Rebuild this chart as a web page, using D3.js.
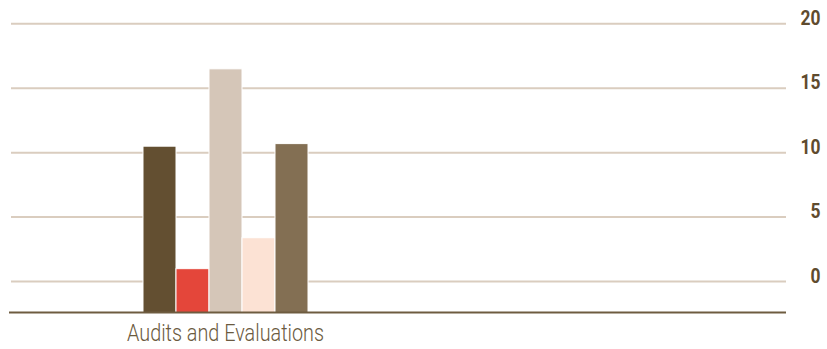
<!DOCTYPE html>
<html>
<head>
<meta charset="utf-8">
<script src="https://cdn.jsdelivr.net/npm/d3@7"></script>
<style>
  html, body { margin: 0; padding: 0; background: #ffffff; }
  svg { display: block; }
</style>
</head>
<body>
<svg id="chart" width="827" height="349"></svg>
<script>
const categories = ["Audits and Evaluations"];
const seriesNames = ["Series 1", "Series 2", "Series 3", "Series 4", "Series 5"];
const series1 = [10.5];
const series2 = [1.0];
const series3 = [16.5];
const series4 = [3.4];
const series5 = [10.7];
const seriesValues = [series1, series2, series3, series4, series5];
const seriesColors = ["#634f31", "#e4463a", "#d5c6b8", "#fce2d4", "#836f53"];
const yTicks = [0, 5, 10, 15, 20];

const W = 827, H = 349;
const plot = { left: 10, right: 786, top: 23.7, bottom: 312.5 };
const svg = d3.select("#chart");

const y = d3.scaleLinear().domain([-2.4, 20]).range([plot.bottom, plot.top]);
const x0 = d3.scaleBand().domain(categories).range([plot.left, 441]);
const x1 = d3.scaleBand().domain(seriesNames).range([0, x0.bandwidth()]).paddingOuter(4.03).paddingInner(0);

// gridlines
svg.append("g").selectAll("line").data(yTicks).join("line")
  .attr("x1", plot.left + 1).attr("x2", plot.right)
  .attr("y1", d => y(d)).attr("y2", d => y(d))
  .attr("stroke", "#dacdbf").attr("stroke-width", 2);

// bars
const rows = [];
categories.forEach((c, ci) => seriesNames.forEach((s, si) => rows.push({ c, s, si, v: seriesValues[si][ci] })));
svg.append("g").selectAll("rect").data(rows).join("rect")
  .attr("x", d => x0(d.c) + x1(d.s))
  .attr("width", x1.bandwidth())
  .attr("y", d => y(d.v))
  .attr("height", d => y.range()[0] - y(d.v))
  .attr("fill", d => seriesColors[d.si])
  .attr("stroke", "#ffffff").attr("stroke-width", 1);

// baseline
svg.append("line")
  .attr("x1", plot.left - 1).attr("x2", plot.right)
  .attr("y1", plot.bottom).attr("y2", plot.bottom)
  .attr("stroke", "#6e5c40").attr("stroke-width", 2);

// y axis labels on the right
const yAxis = d3.axisRight(y).tickValues(yTicks).tickSize(0).tickFormat(d3.format("d"));
const gy = svg.append("g").attr("transform", `translate(820.5,0)`).call(yAxis);
gy.select(".domain").remove();
gy.selectAll("text")
  .attr("x", 0).attr("y", 0.5).attr("dy", "0")
  .attr("text-anchor", "end")
  .attr("fill", "#5f4b2e")
  .attr("textLength", d => String(d).length * 10)
  .attr("lengthAdjust", "spacingAndGlyphs")
  .style("font-family", "Roboto, 'Liberation Sans', sans-serif")
  .style("font-weight", "bold")
  .style("font-size", "21px");

// x axis labels
const xAxis = d3.axisBottom(x0).tickSize(0);
const gx = svg.append("g").attr("transform", `translate(0,${plot.bottom})`).call(xAxis);
gx.select(".domain").remove();
gx.selectAll("text")
  .attr("y", 0).attr("dy", "28.5px")
  .attr("fill", "#6b5a40")
  .attr("textLength", 197)
  .attr("lengthAdjust", "spacingAndGlyphs")
  .style("font-family", "Roboto, 'Liberation Sans', sans-serif")
  .style("font-weight", "300")
  .style("font-size", "23px");
</script>
</body>
</html>
